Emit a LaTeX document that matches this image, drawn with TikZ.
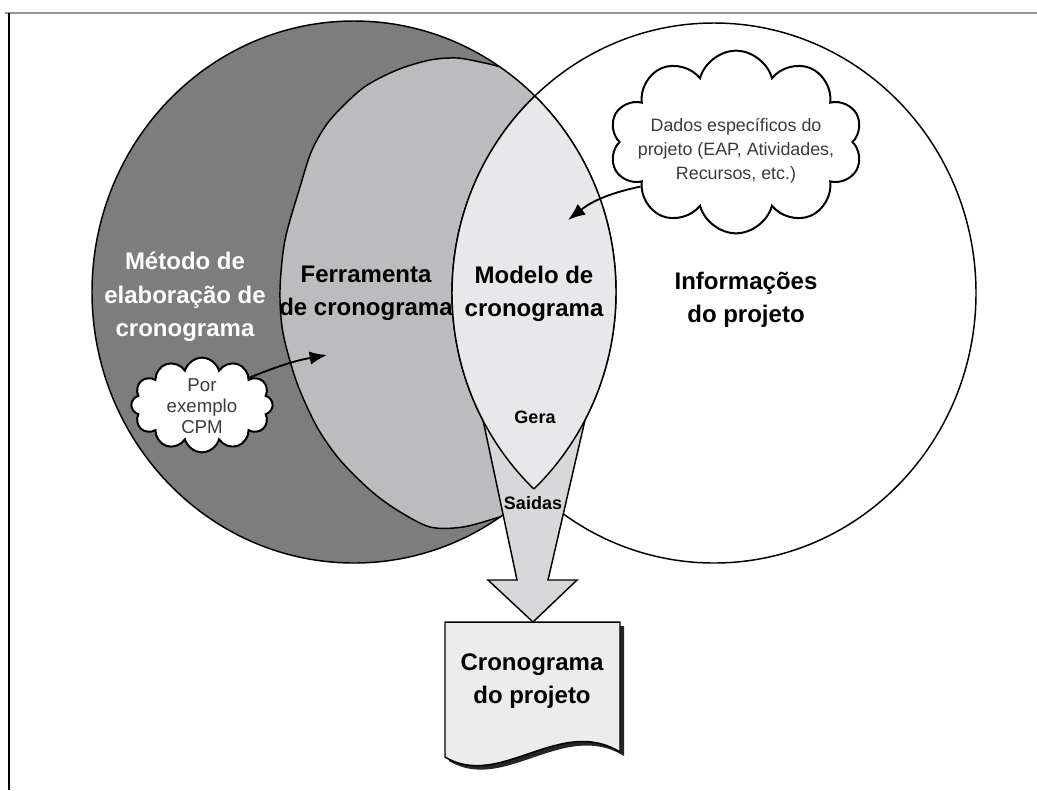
\documentclass[tikz,border=0pt]{standalone}
\usepackage{fontspec}
\setmainfont{Liberation Sans}
\usetikzlibrary{shapes.symbols,arrows.meta}
\definecolor{darkfill}{RGB}{125,125,125}
\definecolor{medfill}{RGB}{188,188,190}
\definecolor{lensfill}{RGB}{232,232,234}
\definecolor{arrowfill}{RGB}{216,216,218}
\definecolor{docfill}{RGB}{236,236,236}
\definecolor{cloudtext}{RGB}{60,60,60}
\definecolor{framegray}{RGB}{150,150,150}
\begin{document}
\begin{tikzpicture}[x=0.75pt,y=0.75pt,
  outline/.style={draw=black, line width=1.1pt},
  biglabel/.style={font=\fontsize{18}{25}\selectfont\bfseries, align=center, inner sep=0pt},
  smalllabel/.style={font=\fontsize{13.5}{16}\selectfont\bfseries, inner sep=0pt},
  cloudtxt/.style={font=\fontsize{13.4}{18}\selectfont, text=cloudtext, align=center, inner sep=0pt},
  puff/.style={cloud, draw=black, fill=white, line width=1.5pt, cloud ignores aspect, inner sep=0pt},
  pointer/.style={-{Latex[length=13pt,width=10pt]}, line width=1.4pt},
]
\useasboundingbox (0,0) rectangle (1037,-790);
% frame
\draw[framegray, line width=2pt] (5,-13) -- (1037,-13);
\draw[black, line width=1.5pt] (9,-13) -- (9,-790);

% dark ellipse (Metodo)
\fill[darkfill] (354,-292) ellipse [x radius=262, y radius=271];
% medium region (Ferramenta)
\begin{scope}
  \clip (354,-292) ellipse [x radius=262, y radius=271];
  \fill[medfill] plot[smooth] coordinates {(530,-76) (497,-66) (480,-62) (457,-58) (430,-60) (397,-70) (363,-88) (330,-120) (312,-150) (300,-187) (285,-240) (280,-290) (283,-333) (297,-383) (317,-427) (340,-460) (370,-490) (397,-510) (430,-527) (463,-527) (500,-517) (530,-509)} -- (700,-509) -- (700,-76) -- cycle;
  \draw[outline] plot[smooth] coordinates {(530,-76) (497,-66) (480,-62) (457,-58) (430,-60) (397,-70) (363,-88) (330,-120) (312,-150) (300,-187) (285,-240) (280,-290) (283,-333) (297,-383) (317,-427) (340,-460) (370,-490) (397,-510) (430,-527) (463,-527) (500,-517) (530,-509)};
\end{scope}
\draw[outline] (354,-292) ellipse [x radius=262, y radius=271];
\draw[outline] (714,-293) ellipse [x radius=262, y radius=270];

% big output arrow
\coordinate (aTL) at (483,-420);
\coordinate (aTR) at (585,-420);
\coordinate (aSL) at (517,-580);
\coordinate (aSR) at (548,-580);
\coordinate (aHL) at (488,-580);
\coordinate (aHR) at (577,-580);
\coordinate (aTip) at (533,-622);
\fill[arrowfill] (aTL) -- (aSL) -- (aHL) -- (aTip) -- (aHR) -- (aSR) -- (aTR) -- cycle;
\draw[outline, line join=miter] (aTL) -- (aSL) -- (aHL) -- (aTip) -- (aHR) -- (aSR) -- (aTR);

% lens (Modelo)
\begin{scope}
  \clip (354,-292) ellipse [x radius=262, y radius=271];
  \fill[lensfill] (714,-293) ellipse [x radius=262, y radius=270];
  \draw[outline] (714,-293) ellipse [x radius=262, y radius=270];
\end{scope}
\begin{scope}
  \clip (714,-293) ellipse [x radius=262, y radius=270];
  \draw[outline] (354,-292) ellipse [x radius=262, y radius=271];
\end{scope}

% document
\fill[black!85, shift={(4,-4)}] (445,-622) -- (620,-622) -- (620,-752) .. controls (560,-715) and (500,-790) .. (445,-757) -- cycle;
\draw[outline, fill=docfill] (445,-622) -- (620,-622) -- (620,-752) .. controls (560,-715) and (500,-790) .. (445,-757) -- cycle;

% labels
\node[biglabel, text=white] (metodo) at (185,-297) {Método de\\elaboração de\\cronograma};
\node[biglabel] (ferramenta) at (366,-293) {Ferramenta\\de cronograma};
\node[biglabel] (modelo) at (534,-294) {Modelo de\\cronograma};
\node[biglabel] (info) at (746,-300) {Informações\\do projeto};
\node[smalllabel] (gera) at (535,-417) {Gera};
\node[smalllabel] (saidas) at (533,-503) {Saidas};
\node[biglabel] (doc) at (532,-681) {Cronograma\\do projeto};

% clouds
\node[puff, cloud puffs=10, minimum width=190pt, minimum height=137pt] (cloudA) at (736,-142) {};
\node[cloudtxt] (cloudAtext) at (736,-151) {Dados específicos do\\projeto (EAP, Atividades,\\Recursos, etc.)};
\node[puff, cloud puffs=12, minimum width=106pt, minimum height=71pt] (cloudB) at (202,-405) {};
\node[font=\fontsize{14}{15.75}\selectfont, text=cloudtext, align=center, inner sep=0pt] (cloudBtext) at (202,-406) {Por\\exemplo\\CPM};

% pointers
\coordinate (tipA) at (568,-220);
\coordinate (tipB) at (327,-355);
\draw[pointer] (cloudA.205) to[out=192, in=38] (tipA);
\draw[pointer] (cloudB.30) to[out=22, in=190] (tipB);
\end{tikzpicture}
\end{document}
